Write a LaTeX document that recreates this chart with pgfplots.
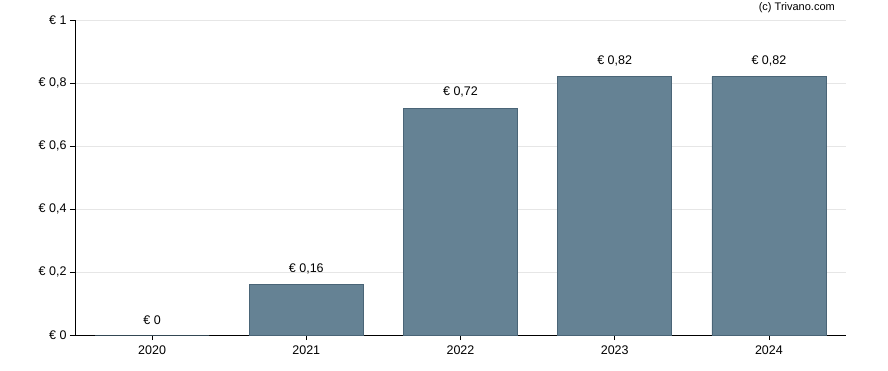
\documentclass[border=0pt]{standalone}
\usepackage{pgfplots}
\pgfplotsset{compat=1.18}
\usepackage{fontspec}
\setmainfont{Liberation Sans}
\definecolor{barfill}{HTML}{658294}
\definecolor{baredge}{HTML}{4A6577}
\definecolor{gridc}{HTML}{E6E6E6}
\begin{document}
\begin{tikzpicture}
\begin{axis}[
  name=ax,
  scale only axis, width=771pt, height=315pt,
  xmin=-0.5, xmax=4.5, ymin=0, ymax=1,
  axis x line*=bottom, axis y line*=left,
  axis line style={black, line width=0.8pt},
  xtick={0,1,2,3,4}, xticklabels={2020,2021,2022,2023,2024},
  ytick={0,0.2,0.4,0.6,0.8,1},
  yticklabels={{€ 0},{€ 0,2},{€ 0,4},{€ 0,6},{€ 0,8},{€ 1}},
  tick align=outside, major tick length=5pt,
  tick style={black, line width=0.8pt},
  ymajorgrids, grid style={gridc, line width=0.8pt},
  tick label style={font=\fontsize{12.5}{14}\selectfont},
  xticklabel style={yshift=-2pt},
  /pgf/number format/assume math mode=true,
  ybar, bar width=114pt,
  nodes near coords,
  point meta=explicit symbolic,
  every node near coord/.append style={font=\fontsize{12.5}{14}\selectfont, yshift=7pt, black},
  clip=false,
]
\addplot[fill=barfill, draw=baredge, line width=0.8pt] coordinates {
  (0,0) [€ 0]
  (1,0.16) [€ 0{,}16]
  (2,0.72) [€ 0{,}72]
  (3,0.82) [€ 0{,}82]
  (4,0.82) [€ 0{,}82]
};
\end{axis}
\node[anchor=east, font=\fontsize{11}{13}\selectfont, inner sep=0pt] at ([xshift=760pt,yshift=327pt]ax.south west) {(c) Trivano.com};
\pgfresetboundingbox
\path[use as bounding box] ([xshift=-75pt,yshift=-35pt]ax.south west) rectangle ([xshift=813pt,yshift=335pt]ax.south west);
\end{tikzpicture}
\end{document}
